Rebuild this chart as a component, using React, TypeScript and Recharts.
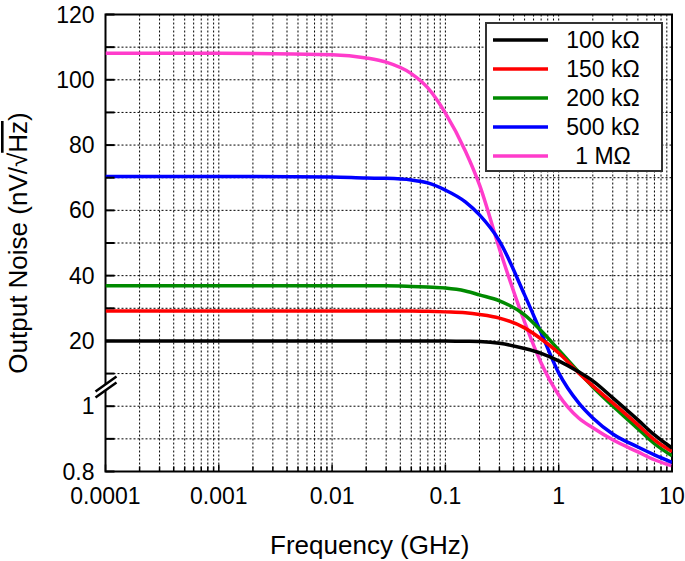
import {
  CartesianGrid,
  Label,
  Legend,
  Line,
  LineChart,
  ReferenceArea,
  XAxis,
  YAxis,
} from "recharts";

const FONT = '"Liberation Sans", Arial, sans-serif';

// frequency points (GHz) and noise in nV/√Hz
const freqGHz = [0.0001, 0.001, 0.01, 0.02, 0.03, 0.05, 0.07, 0.1, 0.15, 0.2, 0.3, 0.5, 0.7, 1, 1.5, 2, 3, 5, 7, 10];
const noise100k = [20.0, 20.0, 20.0, 20.0, 20.0, 20.0, 20.0, 20.0, 19.9, 19.8, 19.3, 17.8, 16.4, 14.2, 11.0, 8.36, 3.41, 0.958, 0.912, 0.872];
const noise150k = [29.2, 29.2, 29.2, 29.2, 29.2, 29.2, 29.1, 28.9, 28.6, 28.1, 27.0, 24.0, 20.6, 16.5, 10.7, 6.91, 1.96, 0.943, 0.897, 0.861];
const noise200k = [36.9, 36.9, 36.9, 36.9, 36.9, 36.7, 36.5, 36.2, 35.3, 34.1, 32.3, 28.0, 23.1, 17.4, 11.0, 6.61, 1.09, 0.931, 0.885, 0.848];
const noise500k = [70.4, 70.4, 70.2, 69.9, 69.8, 69.3, 68.4, 66.2, 62.6, 58.6, 50.6, 34.1, 22.5, 10.7, 1.96, 0.964, 0.915, 0.875, 0.851, 0.828];
const noise1M = [108.1, 108.1, 107.7, 106.7, 105.4, 101.9, 97.5, 89.8, 78.2, 67.8, 48.2, 25.8, 13.6, 4.29, 0.964, 0.934, 0.897, 0.86, 0.836, 0.817];

const seriesKeys = ["n100k", "n150k", "n200k", "n500k", "n1M"];
const seriesNames = ["100 kΩ", "150 kΩ", "200 kΩ", "500 kΩ", "1 MΩ"];
const seriesColors = ["#000000", "#ff0000", "#008a00", "#0000ff", "#ff3ccb"];

const xMajor = [0.0001, 0.001, 0.01, 0.1, 1, 10];
const xMajorLabels = ["0.0001", "0.001", "0.01", "0.1", "1", "10"];

// broken y axis, one grid step per slot: 0.8, 0.9, 1 | break | 20, 30 ... 120
const yLabels = ["0.8", "", "1", "", "20", "", "40", "", "60", "", "80", "", "100", "", "120"];
const BREAK_SLOT = 3;

const toAxis = (v: number) =>
  v >= 20 ? 4 + (v - 20) / 10 : v >= 1 ? 2 + (v - 1) / 9.5 : (v - 0.8) / 0.1;

const data = freqGHz.map((f, i) => ({
  f,
  n100k: noise100k[i],
  n150k: noise150k[i],
  n200k: noise200k[i],
  n500k: noise500k[i],
  n1M: noise1M[i],
}));

// decade + 2..9 minor ticks for the log grid
const xTicks: number[] = [];
for (let e = -4; e < 1; e++) {
  for (let m = 1; m < 10; m++) xTicks.push(+(m * Math.pow(10, e)).toPrecision(3));
}
xTicks.push(10);
const yTicks = yLabels.map((_, i) => i);

function XTick({ x, y, payload }: any) {
  const idx = xMajor.findIndex((d) => Math.abs(d - payload.value) < d * 1e-6);
  const major = idx >= 0;
  return (
    <g>
      <line x1={x} x2={x} y1={y} y2={y - (major ? 7 : 5)} stroke="#000" strokeWidth={1.5} />
      {major && (
        <text x={x} y={y + 32} textAnchor="middle" fontSize={23} fontFamily={FONT} fill="#000">
          {xMajorLabels[idx]}
        </text>
      )}
    </g>
  );
}

function YTick({ x, y, payload }: any) {
  const i = payload.value;
  return (
    <g>
      <line x1={x} x2={x + 9} y1={y} y2={y} stroke="#000" strokeWidth={2} />
      {yLabels[i] && (
        <text x={x - 11} y={y + 8} textAnchor="end" fontSize={23} fontFamily={FONT} fill="#000">
          {yLabels[i]}
        </text>
      )}
      {i === BREAK_SLOT && (
        <g>
          <polygon
            points={`${x - 10},${y + 18} ${x + 11},${y + 3} ${x + 11},${y + 9} ${x - 10},${y + 24}`}
            fill="#fff"
          />
          <line x1={x - 10} y1={y + 18} x2={x + 11} y2={y + 3} stroke="#000" strokeWidth={2.5} />
          <line x1={x - 10} y1={y + 24} x2={x + 11} y2={y + 9} stroke="#000" strokeWidth={2.5} />
        </g>
      )}
    </g>
  );
}

function LegendBox() {
  return (
    <svg width={178} height={150} style={{ display: "block" }}>
      <rect x={1} y={1} width={176} height={148} fill="#fff" stroke="#333" strokeWidth={2} />
      {seriesNames.map((name, i) => (
        <g key={name}>
          <line x1={8} x2={63} y1={18 + i * 29} y2={18 + i * 29} stroke={seriesColors[i]} strokeWidth={3.5} />
          <text x={118} y={26 + i * 29} textAnchor="middle" fontSize={23} fontFamily={FONT} fill="#000">
            {name}
          </text>
        </g>
      ))}
    </svg>
  );
}

export default function App() {
  return (
    <div style={{ position: "absolute", left: 0, top: 0, width: 685, height: 561, background: "#fff", fontFamily: FONT }}>
      <LineChart
        width={685}
        height={561}
        data={data}
        margin={{ top: 14.5, right: 13, bottom: 49.5, left: 15.5 }}
      >
        <CartesianGrid stroke="#000" strokeDasharray="2 2" strokeWidth={1} />
        <XAxis
          dataKey="f"
          type="number"
          scale="log"
          domain={[0.0001, 10]}
          ticks={xTicks}
          allowDataOverflow
          axisLine={false}
          tickLine={false}
          tickSize={0}
          tickMargin={0}
          height={40}
          interval={0}
          tick={<XTick />}
        >
          <Label
            content={({ viewBox }: any) => (
              <text
                x={viewBox.x + viewBox.width / 2 - 19}
                y={viewBox.y + 82.5}
                textAnchor="middle"
                fontSize={26}
                fontFamily={FONT}
                fill="#000"
              >
                Frequency (GHz)
              </text>
            )}
          />
        </XAxis>
        <YAxis
          type="number"
          domain={[0, 14]}
          ticks={yTicks}
          allowDataOverflow
          axisLine={false}
          tickLine={false}
          tickSize={0}
          tickMargin={0}
          width={90}
          interval={0}
          tick={<YTick />}
        >
          <Label
            content={({ viewBox }: any) => (
              <text
                transform={`translate(${viewBox.x + 11.5},${viewBox.y + viewBox.height / 2}) rotate(-90)`}
                textAnchor="middle"
                fontSize={26}
                fontFamily={FONT}
                fill="#000"
              >
                Output Noise (nV/√<tspan textDecoration="overline">Hz</tspan>)
              </text>
            )}
          />
        </YAxis>
        <ReferenceArea x1={0.0001} x2={10} y1={0} y2={14} fill="none" stroke="#000" strokeWidth={2} />
        {[4, 3, 2, 1, 0].map((i) => (
          <Line
            key={seriesKeys[i]}
            type="monotone"
            dataKey={(row: any) => toAxis(row[seriesKeys[i]])}
            name={seriesNames[i]}
            stroke={seriesColors[i]}
            strokeWidth={3.5}
            dot={false}
            isAnimationActive={false}
          />
        ))}
        <Legend
          layout="vertical"
          align="center"
          verticalAlign="middle"
          wrapperStyle={{ left: 485, top: 22, width: 178, height: 150 }}
          content={() => <LegendBox />}
        />
      </LineChart>
    </div>
  );
}
